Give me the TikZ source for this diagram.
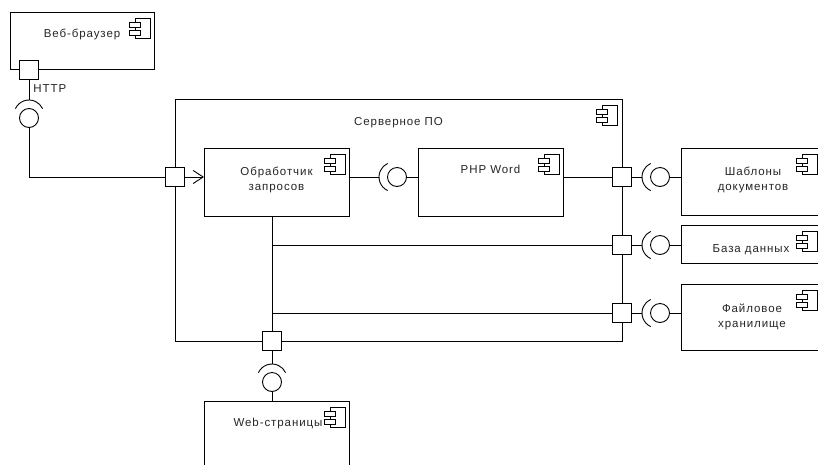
\documentclass[tikz,border=0pt]{standalone}
\usepackage{fontspec}
\setmainfont{Liberation Sans}[LetterSpace=8.0]
\usetikzlibrary{arrows.meta}
\newcommand\cmpicon[2]{%
  \draw[iconrect] (#1-15,#2) rectangle (#1,#2+20);
  \draw[iconrect] (#1-21,#2+4) rectangle (#1-10,#2+9);
  \draw[iconrect] (#1-21,#2+12) rectangle (#1-10,#2+17);
}
\begin{document}
\begin{tikzpicture}[x=1pt,y=-1pt,
  line width=0.9pt,
  box/.style={draw,rectangle,inner sep=0pt,outer sep=0pt,fill=white},
  port/.style={draw,rectangle,fill=white,minimum size=19pt,inner sep=0pt,outer sep=0pt},
  ball/.style={draw,circle,minimum size=19pt,inner sep=0pt,outer sep=0pt},
  lbl/.style={inner sep=0pt,anchor=base,font=\fontsize{11.5}{15}\selectfont,align=center,text=black!85},
  iconrect/.style={draw,fill=white,line width=0.8pt},
  sock/.style={line width=0.9pt}]
\fill[white] (0,0) rectangle (818,464);
\clip (0,0) rectangle (818,464);
% boxes
\node[box,minimum width=144pt,minimum height=57pt] (browser) at (82,40.5) {};
\node[box,minimum width=447pt,minimum height=242pt] (server) at (398.5,220) {};
\node[box,minimum width=145pt,minimum height=68pt] (h) at (276.5,182) {};
\node[box,minimum width=145pt,minimum height=68pt] (php) at (490.5,182) {};
\node[box,minimum width=140pt,minimum height=67pt] (tpl) at (751,181.5) {};
\node[box,minimum width=140pt,minimum height=38pt] (db) at (751,244) {};
\node[box,minimum width=140pt,minimum height=66pt] (fs) at (751,317) {};
\node[box,minimum width=145pt,minimum height=69pt] (web) at (276.5,435.5) {};
% labels
\node[lbl] (lbrowser) at (82,37) {Веб-браузер};
\node[lbl] (lserver) at (398.5,125) {Серверное ПО};
\node[lbl] (lh) at (276.5,190) {Обработчик\\запросов};
\node[lbl] (lphp) at (490.5,173) {PHP Word};
\node[lbl] (ltpl) at (753,190) {Шаблоны\\документов};
\node[lbl] (ldb) at (751,252) {База данных};
\node[lbl] (lfs) at (752,327) {Файловое\\хранилище};
\node[lbl] (lweb) at (278,426) {Web-страницы};
\node[lbl,anchor=base west] (lhttp) at (33,92) {HTTP};
% component icons
\cmpicon{150}{18}
\cmpicon{617}{105}
\cmpicon{345}{154}
\cmpicon{559}{154}
\cmpicon{817}{154}
\cmpicon{817}{231}
\cmpicon{817}{290}
\cmpicon{345}{407}
% ports
\node[port] (pH) at (29,70) {};
\node[port] (pL) at (175,177) {};
\node[port] (pR1) at (622,177) {};
\node[port] (pR2) at (622,245) {};
\node[port] (pR3) at (622,313) {};
\node[port] (pB) at (272,341) {};
% balls
\node[ball] (b1) at (29,118) {};
\node[ball] (b2) at (397,177) {};
\node[ball] (b3) at (660,177) {};
\node[ball] (b4) at (660,245) {};
\node[ball] (b5) at (660,313) {};
\node[ball] (b6) at (272,382) {};
% sockets (apex coordinates)
\coordinate (a1) at (29,100);
\coordinate (a2) at (379,177);
\coordinate (a3) at (642,177);
\coordinate (a4) at (642,245);
\coordinate (a5) at (642,313);
\coordinate (a6) at (272,364);
\draw[sock] (29,115) ++(205:15) arc[start angle=205,end angle=335,radius=15];
\draw[sock] (394,177) ++(115:15) arc[start angle=115,end angle=245,radius=15];
\draw[sock] (657,177) ++(115:15) arc[start angle=115,end angle=245,radius=15];
\draw[sock] (657,245) ++(115:15) arc[start angle=115,end angle=245,radius=15];
\draw[sock] (657,313) ++(115:15) arc[start angle=115,end angle=245,radius=15];
\draw[sock] (272,379) ++(205:15) arc[start angle=205,end angle=335,radius=15];
% junctions
\coordinate (j1) at (272,245);
\coordinate (j2) at (272,313);
% connectors
\draw (pH) -- (a1);
\draw (b1) |- (pL);
\draw[-{Straight Barb[length=10pt,width=13pt]}] (pL) -- (pL -| h.west);
\draw (h.east |- a2) -- (a2);
\draw (b2) -- (b2 -| php.west);
\draw (php.east |- pR1) -- (pR1);
\draw (pR1) -- (a3);
\draw (b3) -- (b3 -| tpl.west);
\draw (j1) -- (pR2);
\draw (pR2) -- (a4);
\draw (b4) -- (b4 -| db.west);
\draw (j2) -- (pR3);
\draw (pR3) -- (a5);
\draw (b5) -- (b5 -| fs.west);
\draw (pB) -- (pB |- h.south);
\draw (pB) -- (a6);
\draw (b6) -- (b6 |- web.north);
\end{tikzpicture}
\end{document}
